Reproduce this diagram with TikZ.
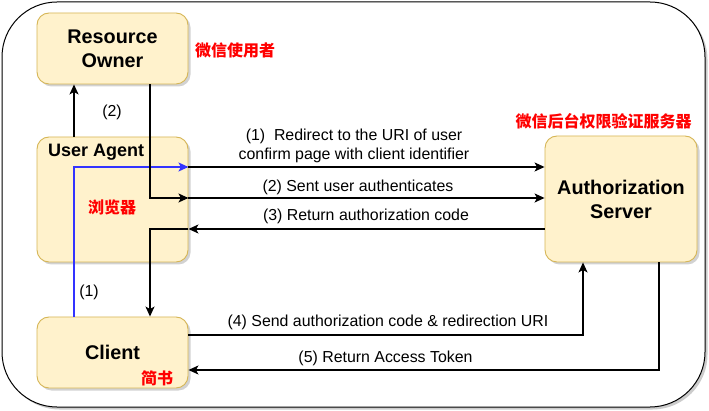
\documentclass[tikz,border=0pt]{standalone}
\usepackage{fontspec}
\setmainfont{Liberation Sans}
\newfontfamily\cjk{Noto Sans CJK SC}
\usetikzlibrary{arrows.meta,shadows}

\definecolor{boxfill}{HTML}{FFF2CC}
\definecolor{boxline}{HTML}{D6B656}
\definecolor{cnred}{HTML}{FF0000}
\definecolor{agentblue}{HTML}{3333FF}

\tikzset{
	party/.style={draw=boxline, fill=boxfill, line width=0.9pt, rounded corners=12pt,
		drop shadow={shadow xshift=2.5pt, shadow yshift=-2.5pt, fill=black!35},
		font=\fontsize{19.8}{24}\selectfont\bfseries, align=center, inner sep=0pt},
	arr/.style={line width=1.3pt, -{Stealth[length=10pt,width=9pt,inset=2.5pt]}},
	msg/.style={font=\fontsize{15.9}{19}\selectfont, align=center, inner sep=0pt},
	cnlabel/.style={text=cnred, font=\fontsize{16}{18}\selectfont\cjk\bfseries, inner sep=0pt}
}

\begin{document}
\begin{tikzpicture}[x=1pt, y=-1pt]
	\useasboundingbox (0,0) rectangle (709,411);
	% outer frame
	\node [draw=black, line width=1pt, rounded corners=55pt, minimum width=703pt, minimum height=405pt,
		drop shadow={shadow xshift=2.5pt, shadow yshift=-2.5pt, fill=black!40}, fill=white] (frame) at (353.5,204.5) {};

	% parties
	\node [party, minimum width=151pt, minimum height=71pt] (owner) at (112.5,48.5) {Resource\\Owner};
	\node [party, minimum width=151pt, minimum height=125pt] (agent) at (112.5,199.5) {};
	\node [font=\fontsize{18}{22}\selectfont\bfseries, anchor=west, inner sep=0pt] (agenttitle) at (48,152) {User Agent};
	\node [party, minimum width=151pt, minimum height=71pt] (client) at (112.5,352.5) {Client};
	\node [party, minimum width=152pt, minimum height=126pt] (server) at (621,199) {Authorization\\Server};

	% chinese notes
	\node [cnlabel, anchor=west] (ownercn) at (195,50) {微信使用者};
	\node [cnlabel] (agentcn) at (112,207) {浏览器};
	\node [cnlabel] (clientcn) at (157,378) {简书};
	\node [cnlabel] (servercn) at (603.5,121) {微信后台权限验证服务器};

	% step (1): client -> user agent -> server
	\draw [arr, agentblue] ([xshift=-38.5pt]client.north) |- ([yshift=32.5pt]agent.east);
	\draw [arr] ([yshift=32.5pt]agent.east) -- ([yshift=32.5pt]agent.east -| server.west);
	\node [msg] (m1) at (354,146) {(1)\ \ Redirect to the URI of user\\confirm page with client identifier};
	\node [msg] (l1) at (89,292) {(1)};

	% step (2): user agent -> owner -> server
	\draw [arr] ([xshift=-38.5pt]agent.north) -- ([xshift=-38.5pt]owner.south);
	\node [msg] (l2) at (112,112) {(2)};
	\draw [arr] ([xshift=37.5pt]owner.south) |- ([yshift=1.5pt]agent.east);
	\draw [arr] ([yshift=1.5pt]agent.east) -- ([yshift=1.5pt]agent.east -| server.west);
	\node [msg] (m2) at (358,187) {(2) Sent user authenticates};

	% step (3): server -> user agent -> client
	\draw [arr] ([yshift=-29.5pt]agent.east -| server.west) -- ([yshift=-29.5pt]agent.east);
	\draw [arr] ([yshift=-29.5pt]agent.east) -| ([xshift=37.5pt]client.north);
	\node [msg] (m3) at (366,216) {(3) Return authorization code};

	% step (4) and (5)
	\draw [arr] ([yshift=17.5pt]client.east) -| ([xshift=-38pt]server.south);
	\node [msg] (m4) at (388,322) {(4) Send authorization code \& redirection URI};
	\draw [arr] ([xshift=38pt]server.south) |- ([yshift=-17.5pt]client.east);
	\node [msg] (m5) at (385.5,358) {(5) Return Access Token};
\end{tikzpicture}
\end{document}
